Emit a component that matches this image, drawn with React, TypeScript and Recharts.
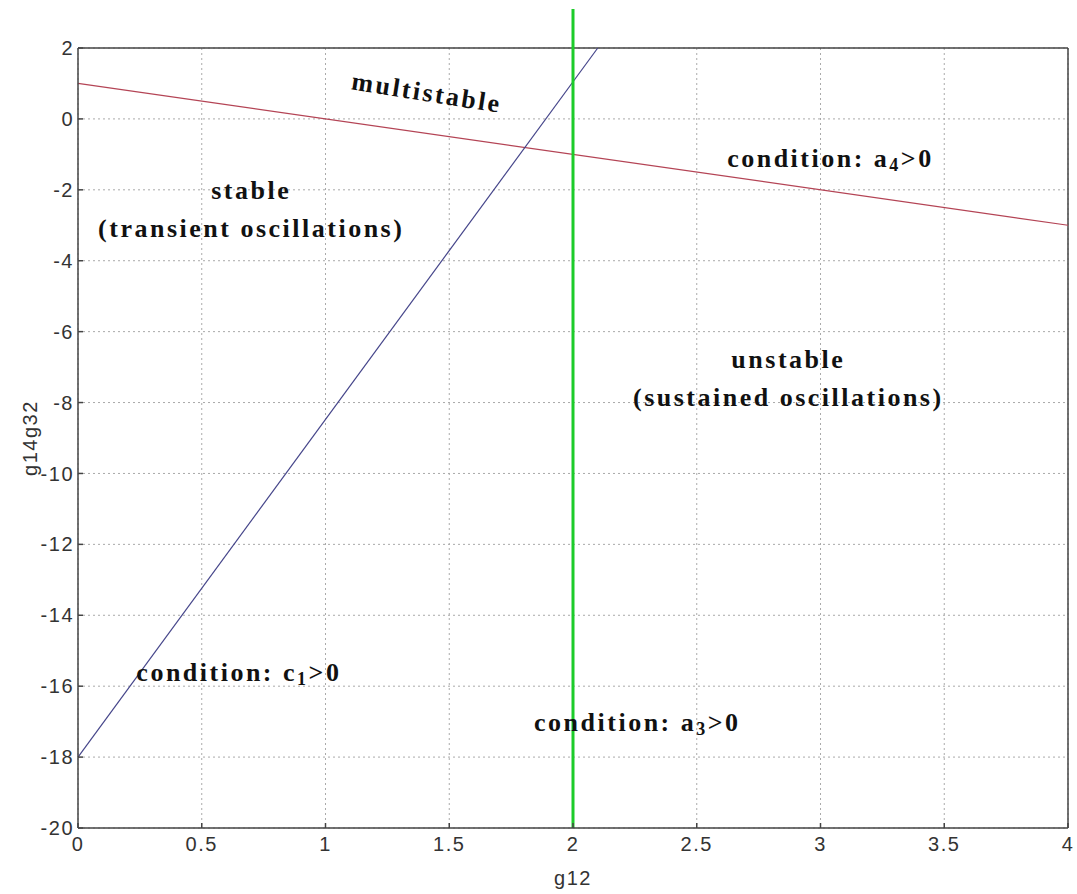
import { ComposedChart, Line, XAxis, YAxis, CartesianGrid, ReferenceLine, ReferenceDot, Label } from 'recharts';

// g12 axis
const xTicks = [0, 0.5, 1, 1.5, 2, 2.5, 3, 3.5, 4];
// g14g32 axis
const yTicks = [-20, -18, -16, -14, -12, -10, -8, -6, -4, -2, 0, 2];

// boundary a4 > 0 (red)
const a4Boundary = [
  { g12: 0, g14g32: 1 },
  { g12: 4, g14g32: -3 },
];
// boundary c1 > 0 (blue)
const c1Boundary = [
  { g12: 0, g14g32: -18 },
  { g12: 2.1, g14g32: 2 },
];
// boundary a3 > 0 (green, vertical)
const a3Boundary = [
  { g12: 2, g14g32: -20 },
  { g12: 2, g14g32: 3.1 },
];

const regionLabels = [
  { key: 'multi', g12: 1.41, g14g32: 0.75, lines: [['multistable']], rotate: 9 },
  { key: 'stable', g12: 0.7, g14g32: -2.55, lines: [['stable'], ['(transient oscillations)']], rotate: 0 },
  { key: 'a4', g12: 3.04, g14g32: -1.1, lines: [['condition: a', '4', '>0']], rotate: 0 },
  { key: 'unstable', g12: 2.87, g14g32: -7.3, lines: [['unstable'], ['(sustained oscillations)']], rotate: 0 },
  { key: 'c1', g12: 0.65, g14g32: -15.6, lines: [['condition: c', '1', '>0']], rotate: 0 },
  { key: 'a3', g12: 2.26, g14g32: -17.0, lines: [['condition: a', '3', '>0']], rotate: 0 },
];

const tickStyle = { fontFamily: 'Liberation Sans, Arial, sans-serif', fontSize: 20, fill: '#333', letterSpacing: 1.5 };

function RegionText({ cx, cy, lines, rotate }: any) {
  const lineH = 38;
  const y0 = cy - ((lines.length - 1) * lineH) / 2;
  return (
    <g transform={`rotate(${rotate} ${cx} ${cy})`}>
      {lines.map((parts: string[], i: number) => (
        <text
          key={i}
          x={cx}
          y={y0 + i * lineH}
          textAnchor="middle"
          dominantBaseline="central"
          fontFamily="Liberation Serif, Times New Roman, serif"
          fontWeight="bold"
          fontSize={26}
          letterSpacing={2.5}
          fill="#111"
        >
          <tspan>{parts[0]}</tspan>
          {parts.length > 1 && (
            <tspan fontSize={18} dy={7}>{parts[1]}</tspan>
          )}
          {parts.length > 2 && <tspan dy={-7}>{parts[2]}</tspan>}
        </text>
      ))}
    </g>
  );
}

export default function App() {
  return (
    <div style={{ position: 'absolute', left: 0, top: 0, background: '#fff' }}>
      <ComposedChart width={1077} height={894} margin={{ top: 48, right: 9, left: 18, bottom: 6 }}>
        <CartesianGrid stroke="#aaa" strokeDasharray="2 3" />
        <XAxis
          dataKey="g12"
          type="number"
          domain={[0, 4]}
          ticks={xTicks}
          height={60}
          tickSize={-5}
          tickMargin={14}
          interval={0}
          stroke="#444"
          strokeWidth={1.5}
          tick={tickStyle}
        >
          <Label
            content={({ viewBox }: any) => (
              <text x={viewBox.x + viewBox.width / 2} y={885} textAnchor="middle" style={tickStyle}>
                g12
              </text>
            )}
          />
        </XAxis>
        <XAxis xAxisId="top" orientation="top" type="number" domain={[0, 4]} ticks={xTicks} height={0} tickSize={-5} tick={() => <g />} interval={0} stroke="#444" strokeWidth={1.5} />
        <YAxis
          type="number"
          domain={[-20, 2]}
          ticks={yTicks}
          width={60}
          tickSize={-5}
          tickMargin={9}
          interval={0}
          stroke="#444"
          strokeWidth={1.5}
          tick={tickStyle}
        >
          <Label
            content={({ viewBox }: any) => (
              <text
                x={30}
                y={viewBox.y + viewBox.height / 2}
                textAnchor="middle"
                dominantBaseline="central"
                transform={`rotate(-90 30 ${viewBox.y + viewBox.height / 2})`}
                style={tickStyle}
              >
                g14g32
              </text>
            )}
          />
        </YAxis>
        <YAxis yAxisId="right" orientation="right" type="number" domain={[-20, 2]} ticks={yTicks} width={0} tickSize={-5} tick={() => <g />} interval={0} stroke="#444" strokeWidth={1.5} />

        <ReferenceLine y={2} stroke="#444" strokeWidth={1.5} />
        <ReferenceLine x={4} stroke="#444" strokeWidth={1.5} />

        <Line data={a4Boundary} dataKey="g14g32" stroke="#b44455" strokeWidth={1.2} dot={false} isAnimationActive={false} />
        <Line data={c1Boundary} dataKey="g14g32" stroke="#45458a" strokeWidth={1.2} dot={false} isAnimationActive={false} />
        <ReferenceLine
          segment={[
            { x: a3Boundary[0].g12, y: a3Boundary[0].g14g32 },
            { x: a3Boundary[1].g12, y: a3Boundary[1].g14g32 },
          ]}
          ifOverflow="visible"
          stroke="#1ccc2a"
          strokeWidth={3}
        />

        {regionLabels.map((r) => (
          <ReferenceDot
            key={r.key}
            x={r.g12}
            y={r.g14g32}
            r={0}
            ifOverflow="visible"
            shape={(p: any) => <RegionText cx={p.cx} cy={p.cy} lines={r.lines} rotate={r.rotate} />}
          />
        ))}
      </ComposedChart>
    </div>
  );
}
